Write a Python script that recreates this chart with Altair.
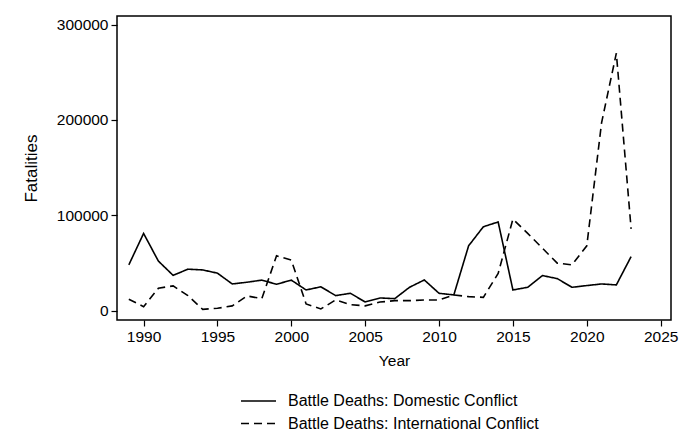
import altair as alt
import pandas as pd

years = list(range(1989, 2024))
domestic = [48000, 81000, 52000, 37000, 43500, 42700, 39300, 28000, 29800, 32000,
            27700, 32000, 21700, 25000, 15800, 18200, 9100, 13300, 12600, 24500,
            32200, 18200, 16500, 68000, 88000, 93000, 21700, 24500, 36800, 33600,
            24500, 26300, 28000, 27000, 56700]
international = [12000, 4200, 23500, 26000, 15800, 1400, 2500, 5000, 15400, 12600,
                  57500, 53000, 7000, 1800, 11200, 6300, 5000, 9000, 10500, 10500,
                  11200, 11200, 16500, 14700, 14000, 39000, 96000, 81000, 65500, 49800,
                  48000, 68000, 197000, 270000, 85800]
series_names = ["Battle Deaths: Domestic Conflict", "Battle Deaths: International Conflict"]

df = pd.DataFrame({
    "Year": years * 2,
    "Fatalities": domestic + international,
    "Series": [series_names[0]] * len(years) + [series_names[1]] * len(years),
})

FONT = "Liberation Sans"

common_axis = dict(grid=False, tickSize=6, domain=False, tickColor="black",
                   labelColor="black", titleColor="black", labelFontSize=15.5,
                   titleFontWeight="normal", labelFont=FONT,
                   titleFont=FONT, tickWidth=1.2)

chart = alt.Chart(df).mark_line(color="black", strokeWidth=1.6).encode(
    x=alt.X("Year:Q",
            scale=alt.Scale(domain=[1988.2, 2025.7], nice=False, zero=False),
            axis=alt.Axis(values=list(range(1990, 2026, 5)), format="d",
                          labelPadding=3, titlePadding=9, titleFontSize=15.5,
                          **common_axis)),
    y=alt.Y("Fatalities:Q",
            scale=alt.Scale(domain=[-9800, 309000], nice=False, zero=False),
            axis=alt.Axis(values=[0, 100000, 200000, 300000], format="d",
                          labelPadding=3, titlePadding=16, titleFontSize=17,
                          **common_axis)),
    strokeDash=alt.StrokeDash("Series:N",
                              scale=alt.Scale(domain=series_names, range=[[1, 0], [8, 5]]),
                              legend=alt.Legend(title=None, orient="none", legendX=123,
                                                legendY=377, direction="vertical",
                                                symbolType="stroke", symbolSize=1225,
                                                symbolStrokeWidth=1.6, symbolStrokeColor="black",
                                                labelFontSize=16, labelFont=FONT,
                                                labelColor="black", rowPadding=6.5,
                                                clipHeight=16, labelLimit=500,
                                                labelOffset=11)),
).properties(
    width=554, height=304,
    padding={"left": 117, "top": 16, "right": 15, "bottom": 128},
    autosize=alt.AutoSizeParams(type="none"),
).configure(
    background="white",
    view=alt.ViewConfig(stroke="black", strokeWidth=1.5),
)

chart.save("out.html", embed_options={"renderer": "svg", "actions": False})
